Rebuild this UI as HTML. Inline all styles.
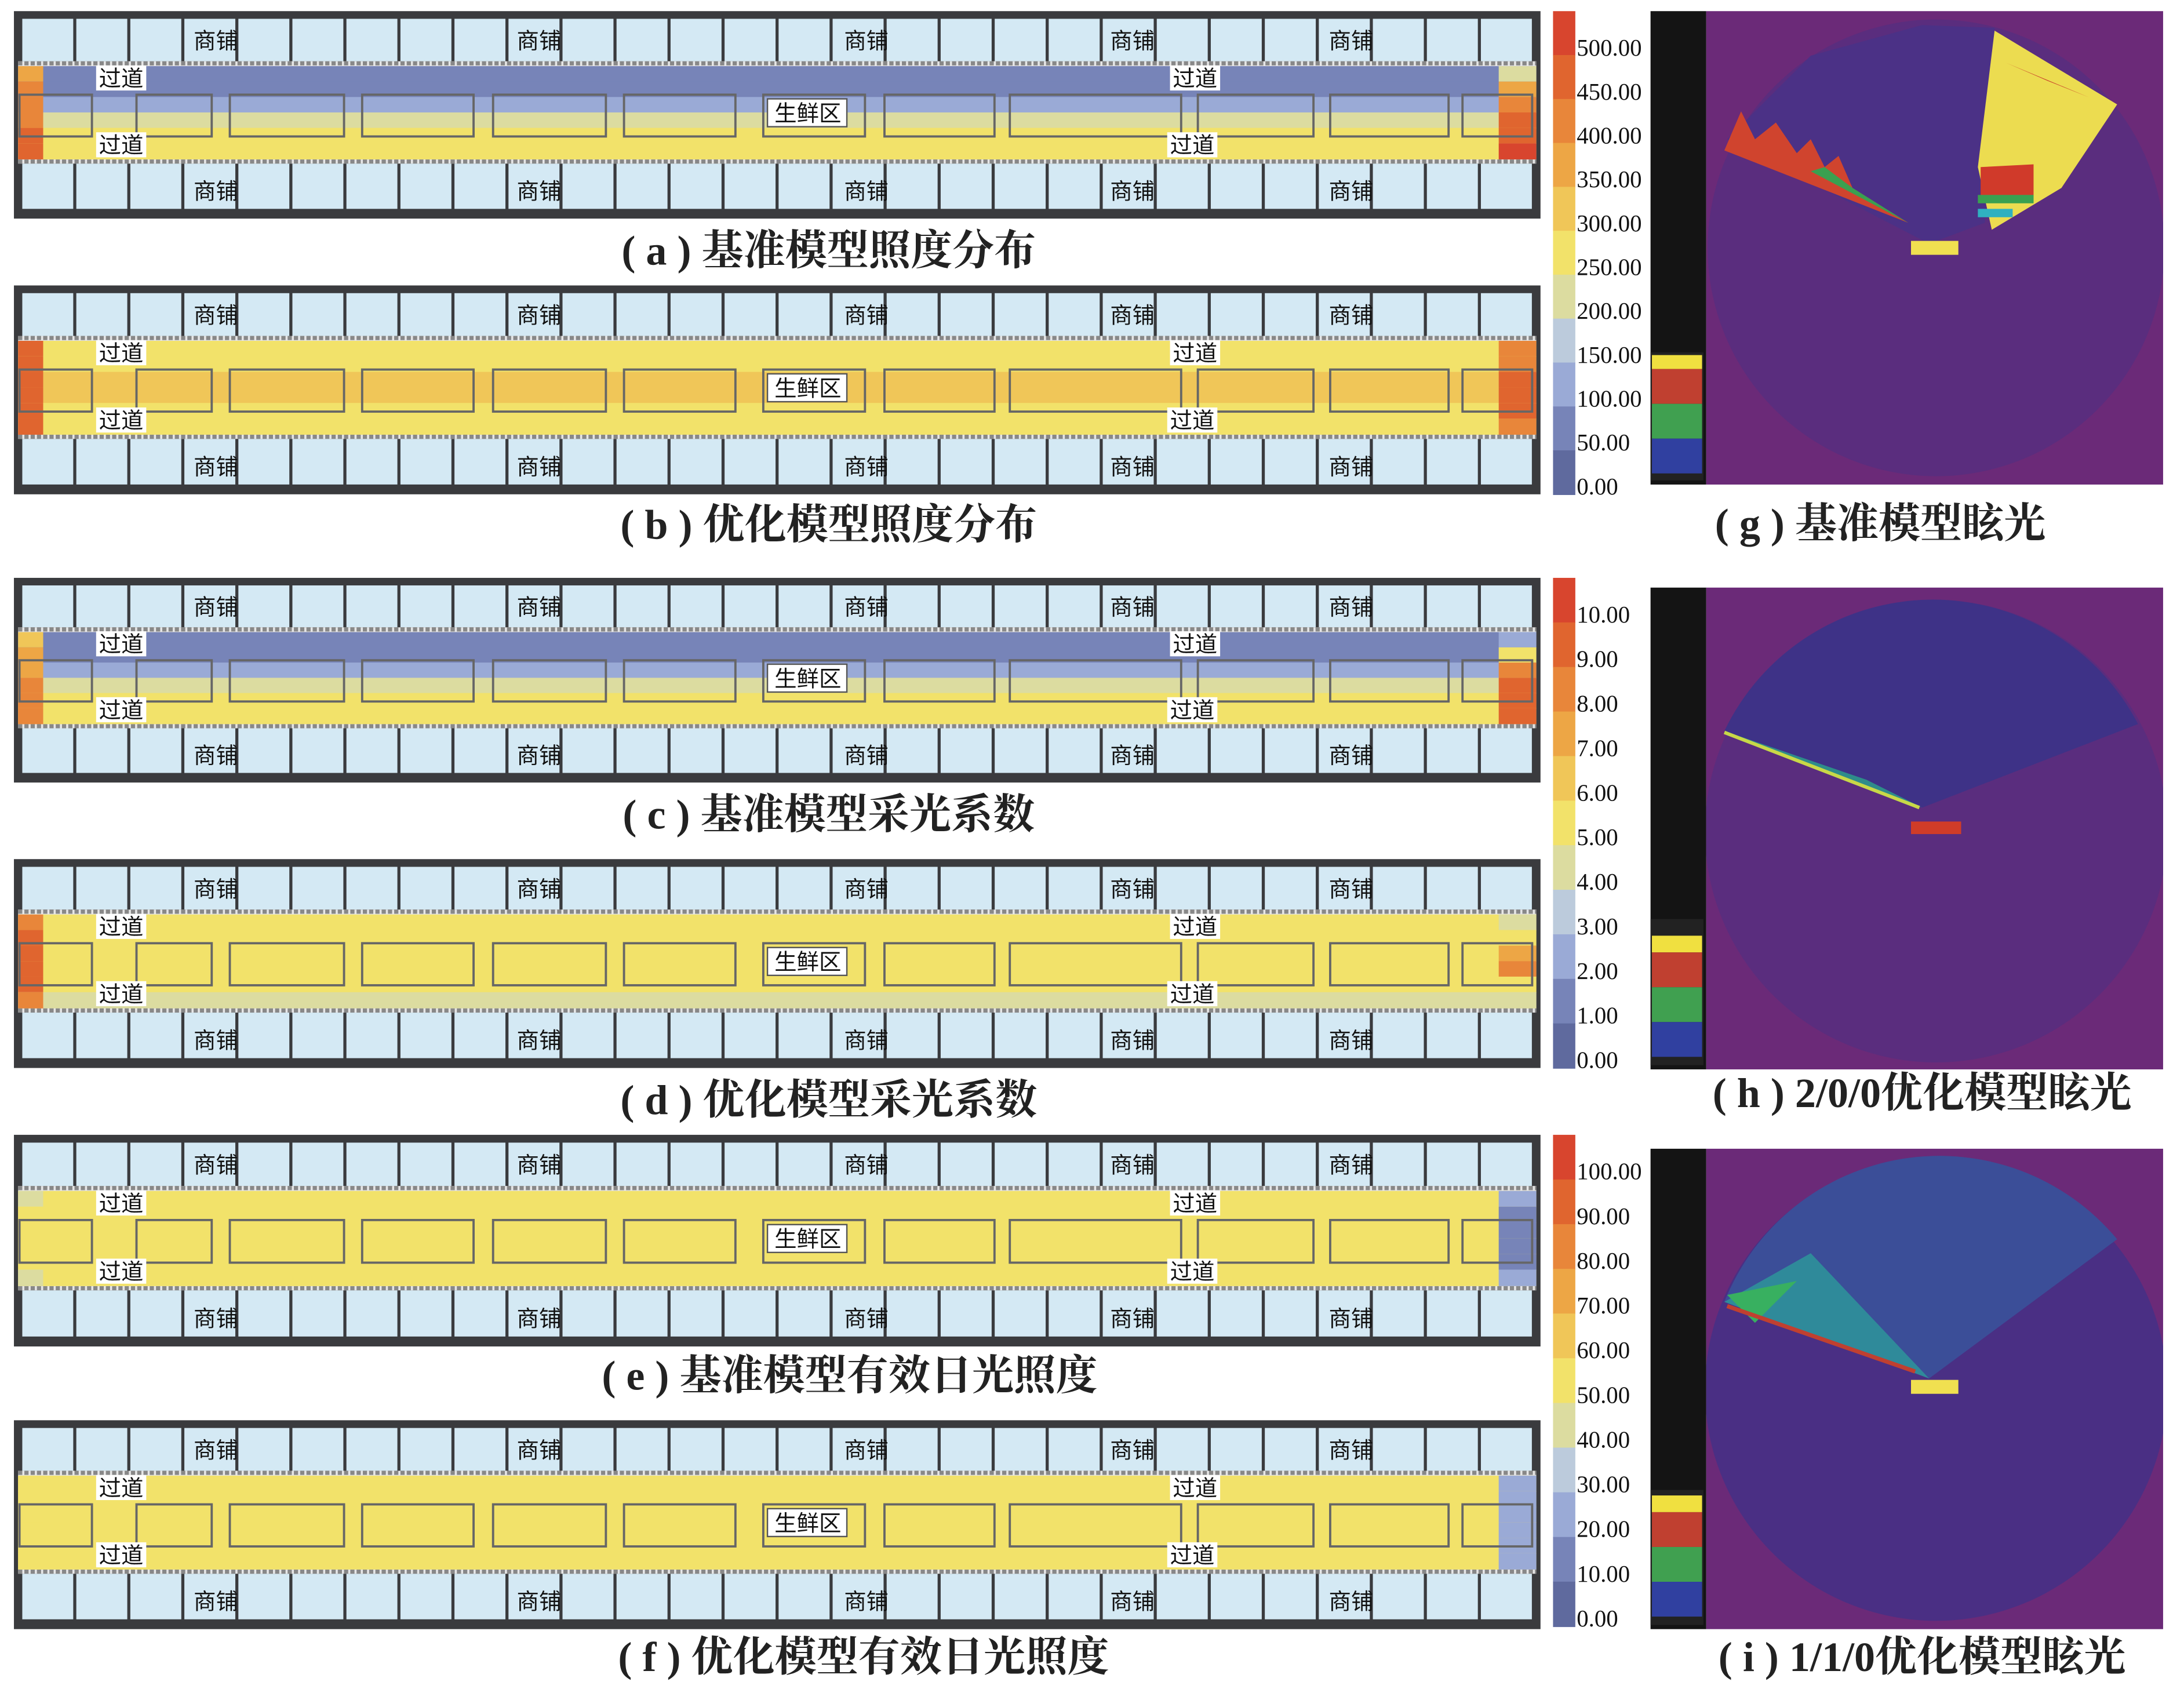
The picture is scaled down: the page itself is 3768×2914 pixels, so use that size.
<!DOCTYPE html>
<html><head><meta charset="utf-8">
<style>
html,body{margin:0;padding:0;background:#fff;}
svg{display:block;}
text{font-family:"Liberation Serif","Noto Serif CJK SC",serif;}
.lab{font-family:"Liberation Sans","Noto Sans CJK SC",sans-serif;font-size:16px;fill:#111;}
.cap{font-size:30px;font-weight:bold;fill:#222;}
.tick{font-size:17px;fill:#111;}
</style></head>
<body>
<svg id="fig" width="3768" height="2914" viewBox="0 0 1568 1213" preserveAspectRatio="none" xmlns="http://www.w3.org/2000/svg">
<defs>
  <clipPath id="cg"><rect x="1225" y="8" width="328" height="340"/></clipPath>
  <clipPath id="ch"><rect x="1225" y="422" width="328" height="346"/></clipPath>
  <clipPath id="ci"><rect x="1225" y="825" width="328" height="345"/></clipPath>
</defs>
<g id="plans"></g>
<g id="bars"></g>
<g id="glare">
  <g>
    <rect x="1185" y="8" width="40" height="340" fill="#141414"/>
    <rect x="1225" y="8" width="328" height="340" fill="#6b2a78"/>
    <g clip-path="url(#cg)">
    <circle cx="1390" cy="178" r="164" fill="#5a2d7e"/>
    <polygon points="1385,175 1240,100 1300,40 1380,18 1432,20 1425,160" fill="#4b3186"/>
    <polygon points="1238,108 1250,80 1260,100 1275,88 1290,110 1300,100 1310,120 1320,112 1330,135 1370,160" fill="#d0442e"/>
    <polygon points="1330,135 1310,120 1300,123 1370,160" fill="#3aa050"/>
    <polygon points="1432,22 1520,75 1480,135 1430,165 1420,120" fill="#ecdc50"/>
    <polygon points="1440,45 1500,70 1470,58" fill="#c83a2a"/>
    <polygon points="1422,120 1460,118 1460,145 1422,140" fill="#d03a2a"/>
    <rect x="1420" y="140" width="40" height="6" fill="#3aa050"/>
    <rect x="1420" y="150" width="25" height="6" fill="#30b0c0"/>
    <rect x="1372" y="173" width="34" height="10" fill="#f0e050"/>
    </g>
    <rect x="1185" y="253" width="38" height="92" fill="#222"/>
    <rect x="1186" y="255" width="36" height="10" fill="#f0e040"/>
    <rect x="1186" y="265" width="36" height="25" fill="#c04030"/>
    <rect x="1186" y="290" width="36" height="25" fill="#40a050"/>
    <rect x="1186" y="315" width="36" height="25" fill="#3040a0"/>
  </g>
  <g>
    <rect x="1185" y="422" width="40" height="346" fill="#141414"/>
    <rect x="1225" y="422" width="328" height="346" fill="#6b2a78"/>
    <g clip-path="url(#ch)">
    <circle cx="1390" cy="597" r="166" fill="#5a2d7e"/>
    <path d="M1238,525 A166,166 0 0 1 1535,520 L1380,580 Z" fill="#3e3287"/>
    <polygon points="1238,525 1380,580 1340,560" fill="#2e8c8a"/>
    <line x1="1238" y1="526" x2="1378" y2="580" stroke="#c8d848" stroke-width="2.5"/>
    <rect x="1372" y="590" width="36" height="9" fill="#d03c28"/>
    </g>
    <rect x="1185" y="660" width="38" height="105" fill="#222"/>
    <rect x="1186" y="672" width="36" height="12" fill="#f0e040"/>
    <rect x="1186" y="684" width="36" height="25" fill="#c04030"/>
    <rect x="1186" y="709" width="36" height="25" fill="#40a050"/>
    <rect x="1186" y="734" width="36" height="25" fill="#3040a0"/>
  </g>
  <g>
    <rect x="1185" y="825" width="40" height="345" fill="#141414"/>
    <rect x="1225" y="825" width="328" height="345" fill="#6b2a78"/>
    <g clip-path="url(#ci)">
    <circle cx="1390" cy="998" r="166" fill="#4a2f84"/>
    <path d="M1238,935 A166,166 0 0 1 1520,890 L1385,990 Z" fill="#3b4e98"/>
    <polygon points="1238,935 1300,900 1385,990" fill="#2f8a9a"/>
    <polygon points="1240,930 1290,920 1260,950" fill="#38b060"/>
    <line x1="1240" y1="938" x2="1375" y2="985" stroke="#c04030" stroke-width="3"/>
    <rect x="1372" y="991" width="34" height="10" fill="#f0e050"/>
    </g>
    <rect x="1185" y="1070" width="38" height="97" fill="#222"/>
    <rect x="1186" y="1074" width="36" height="12" fill="#f0e040"/>
    <rect x="1186" y="1086" width="36" height="25" fill="#c04030"/>
    <rect x="1186" y="1111" width="36" height="25" fill="#40a050"/>
    <rect x="1186" y="1136" width="36" height="25" fill="#3040a0"/>
  </g>
</g>
<g id="caps">
  <text class="cap" x="595" y="190" text-anchor="middle">( a ) 基准模型照度分布</text>
  <text class="cap" x="595" y="387" text-anchor="middle">( b ) 优化模型照度分布</text>
  <text class="cap" x="595" y="595" text-anchor="middle">( c ) 基准模型采光系数</text>
  <text class="cap" x="595" y="800" text-anchor="middle">( d ) 优化模型采光系数</text>
  <text class="cap" x="610" y="998" text-anchor="middle">( e ) 基准模型有效日光照度</text>
  <text class="cap" x="620" y="1200" text-anchor="middle">( f ) 优化模型有效日光照度</text>
  <text class="cap" x="1350" y="386" text-anchor="middle">( g ) 基准模型眩光</text>
  <text class="cap" x="1380" y="795" text-anchor="middle">( h ) 2/0/0优化模型眩光</text>
  <text class="cap" x="1380" y="1200" text-anchor="middle">( i ) 1/1/0优化模型眩光</text>
</g>
</svg>
<script>
const NS='http://www.w3.org/2000/svg';
const ticksIllum=['500.00','450.00','400.00','350.00','300.00','250.00','200.00','150.00','100.00','50.00','0.00'];
const ticksDF=['10.00','9.00','8.00','7.00','6.00','5.00','4.00','3.00','2.00','1.00','0.00'];
const ticksUDI=['100.00','90.00','80.00','70.00','60.00','50.00','40.00','30.00','20.00','10.00','0.00'];
const bandColors=['#5f6a9e','#7784b8','#9aaad6','#bccbdc','#dcdca0','#f2e26a','#f0c658','#eda645','#e8863a','#e0652f','#d8452e'];
const rowsA=[70,78,125,245,265,275], leftA=[380,400,420,440,470,490], rightA=[200,350,420,460,480,500];
const rowsB=[265,290,310,300,285,265], leftB=[460,480,490,490,480,460], rightB=[420,440,460,460,450,400];
const rowsC=[1.0,1.3,2.6,4.6,5.0,5.0], leftC=[6,7,7.5,8,8,8], rightC=[2,5,8,9,9.5,9.5];
const rowsD=[5.2,5.5,5.6,5.6,5.4,4.8], leftD=[8,9,9,9,9,8], rightD=[4,5,7,8,5,4];
const rowsE=[55,56,56,56,56,55], leftE=[48,50,50,50,50,48], rightE=[22,18,18,18,18,22];
const rowsF=[55,56,56,56,56,55], leftF=[50,52,52,52,52,50], rightF=[24,20,20,20,20,24];
const panels=[
 {id:'a',top:8,bot:157,max:550,rows:rowsA,left:leftA,right:rightA},
 {id:'b',top:205,bot:355,max:550,rows:rowsB,left:leftB,right:rightB},
 {id:'c',top:415,bot:562,max:11,rows:rowsC,left:leftC,right:rightC},
 {id:'d',top:617,bot:767,max:11,rows:rowsD,left:leftD,right:rightD},
 {id:'e',top:815,bot:967,max:110,rows:rowsE,left:leftE,right:rightE},
 {id:'f',top:1020,bot:1170,max:110,rows:rowsF,left:leftF,right:rightF}
];
function colorOf(v,max){let i=Math.floor(v/max*11);if(i<0)i=0;if(i>10)i=10;return bandColors[i];}
function mk(tag,attrs,parent){const e=document.createElementNS(NS,tag);for(const k in attrs)e.setAttribute(k,attrs[k]);parent.appendChild(e);return e;}
const plans=document.getElementById('plans');
const X0=10,X1=1106;
const cellW=(1101-15)/28;
const boxes=[[14,66],[98,152],[165,247],[260,340],[354,435],[448,528],[548,621],[635,714],[725,848],[860,943],[955,1040],[1050,1100]];
panels.forEach(p=>{
  const g=mk('g',{},plans);
  
  
  const H=p.bot-p.top, s=H/149;
  const y=f=>p.top+f*s;
  mk('rect',{x:X0,y:p.top,width:X1-X0,height:H,fill:'#3a3b3e'},g);
  [[y(5.5),y(36)],[y(109.5),y(142)]].forEach(([a,b])=>{
    for(let i=0;i<28;i++){
      const c=mk('rect',{x:15+i*cellW+1,y:a,width:cellW-2.2,height:b-a,fill:'#d4e9f4'},g);
      
      
    }
  });
  const cy0=y(36),cy1=y(109.5);
  mk('rect',{x:X0+3,y:cy0,width:X1-X0-6,height:cy1-cy0,fill:'#e6e6e6'},g);
  const iy0=y(39.5),iy1=y(106);
  const rh=(iy1-iy0)/6;
  for(let r=0;r<6;r++){
    const cell=mk('rect',{x:X0+3,y:iy0+r*rh,width:X1-X0-6,height:rh+0.5,fill:colorOf(p.rows[r],p.max)},g);
    
    
    const l=mk('rect',{x:X0+3,y:iy0+r*rh,width:18,height:rh+0.5,fill:colorOf(p.left[r],p.max)},g);
    
    
    const rr=mk('rect',{x:X1-30,y:iy0+r*rh,width:27,height:rh+0.5,fill:colorOf(p.right[r],p.max)},g);
    
    
  }
  [y(37.5),y(108)].forEach(yy=>{mk('line',{x1:X0+3,x2:X1-3,y1:yy,y2:yy,stroke:'#888',"stroke-width":3,"stroke-dasharray":"3,1.5"},g);});
  boxes.forEach(([a,b])=>{
    const bx=mk('rect',{x:a,y:y(60),width:b-a,height:y(90)-y(60),fill:'none',stroke:'#666',"stroke-width":1.6},g);
    
    
  });
  [155,387,622,813,970].forEach(x=>{
    [y(21),y(129)].forEach(yy=>{
      const t=mk('text',{x:x,y:yy+6,class:'lab',"text-anchor":'middle'},g);
      t.textContent='商铺';
      
      
    });
  });
  [[87,y(48)],[87,y(96)],[858,y(48)],[856,y(96)]].forEach(([x,yy])=>{
    mk('rect',{x:x-18,y:yy-9,width:36,height:18,fill:'#fff'},g);
    const t=mk('text',{x:x,y:yy+6,class:'lab',"text-anchor":'middle'},g);
    t.textContent='过道';
    
    
  });
  mk('rect',{x:551,y:y(73)-10,width:57,height:20,fill:'#fff',stroke:'#555',"stroke-width":1},g);
  const t=mk('text',{x:580,y:y(73)+6,class:'lab',"text-anchor":'middle'},g);
  t.textContent='生鲜区';
  
  
});
const bars=document.getElementById('bars');
[[8,355,ticksIllum,'illuminance'],[415,767,ticksDF,'daylight-factor'],[815,1168,ticksUDI,'udi']].forEach(([t0,t1,ticks,nm])=>{
  const g=mk('g',{},bars);
  
  
  const bh=(t1-t0)/11;
  for(let i=0;i<11;i++){
    mk('rect',{x:1115,y:t0+i*bh,width:16,height:bh+0.5,fill:bandColors[10-i]},g);
  }
  const sp=(t1-6-(t0+26))/10;
  ticks.forEach((lab,i)=>{
    const tx=mk('text',{x:1132,y:t0+26+i*sp+6,class:'tick'},g);
    tx.textContent=lab;
    
    
  });
});
</script>
</body></html>
